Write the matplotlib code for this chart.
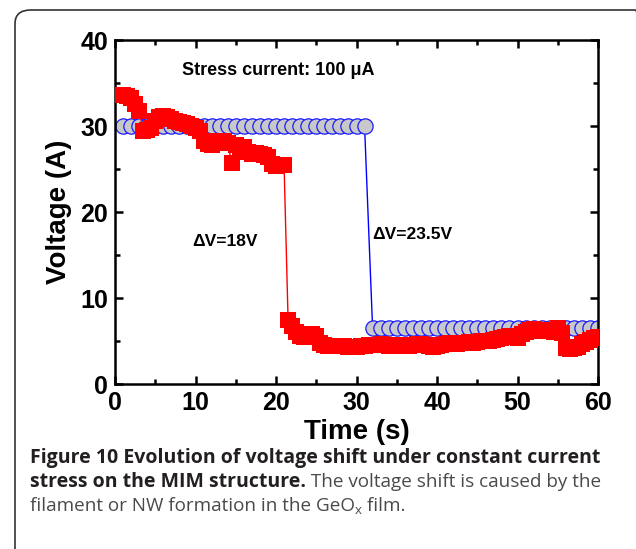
import numpy as np
import matplotlib
matplotlib.use("Agg")
import matplotlib.pyplot as plt
from matplotlib.patches import FancyBboxPatch

# blue circles: constant-current stress, device with later breakdown
blue_t_high = np.arange(1, 32)
blue_v_high = [30.0] * 31
blue_t_low = np.arange(32, 61)
blue_v_low = [6.5] * 29

# red squares: device with earlier breakdown (0.5 s sampling)
red_t_high = np.arange(0.5, 21.01, 0.5)
red_v_high = [33.6, 33.6, 33.5, 33.3, 32.6, 31.8, 29.4, 29.5, 29.8, 30.6,
              31.0, 31.2, 31.1, 30.8, 30.6, 30.5, 30.3, 30.2, 30.0, 29.8,
              29.4, 28.2, 27.9, 27.8, 28.0, 28.3, 28.2, 28.0, 25.7, 27.8,
              27.6, 27.6, 27.0, 26.8, 26.9, 26.7, 26.6, 26.4, 25.6, 25.4,
              25.5, 25.5]
red_t_low = np.arange(21.5, 60.01, 0.5)
red_v_low = [7.5, 6.8, 6.0, 5.6, 5.5, 5.7, 5.8, 5.6, 4.8, 4.5,
             4.4, 4.4, 4.4, 4.4, 4.4, 4.3, 4.3, 4.3, 4.4, 4.4,
             4.5, 4.5, 4.5, 4.6, 4.5, 4.4, 4.4, 4.5, 4.5, 4.4,
             4.4, 4.5, 4.6, 4.6, 4.5, 4.4, 4.3, 4.4, 4.5, 4.7,
             4.8, 4.7, 4.7, 4.8, 4.8, 4.9, 4.8, 4.9, 5.0, 5.0,
             5.0, 5.1, 5.2, 5.3, 5.5, 5.6, 5.5, 5.4, 5.8, 6.0,
             6.3, 6.4, 6.2, 6.2, 6.3, 6.3, 6.1, 6.5, 5.9, 4.2,
             4.1, 4.2, 4.3, 4.7, 4.9, 5.1, 5.3, 5.5]

W, H = 636, 549
fig = plt.figure(figsize=(W / 100, H / 100), dpi=100)

# rounded frame around figure + caption (cut off at right/bottom)
frame = FancyBboxPatch((15 / W, -0.2), 1.0, 1 - 10 / H + 0.2,
                       boxstyle="round,pad=0,rounding_size=0.025",
                       transform=fig.transFigure, fill=False,
                       edgecolor="#333333", linewidth=1.2)
fig.add_artist(frame)

ax = fig.add_axes([115 / W, 1 - 384 / H, (598 - 115) / W, (384 - 40) / H])

t_blue = np.concatenate([blue_t_high, blue_t_low])
v_blue = np.concatenate([blue_v_high, blue_v_low])
t_red = np.concatenate([red_t_high, red_t_low])
v_red = np.concatenate([red_v_high, red_v_low])

ax.plot(t_blue, v_blue, color="#0000ff", linewidth=1.0, marker="o",
        markersize=11, markerfacecolor="#c8c8c8", markeredgecolor="#1a1aff",
        markeredgewidth=0.9, zorder=2)
ax.plot(t_red, v_red, color="#ff0000", linewidth=1.0, marker="s",
        markersize=11.5, markerfacecolor="#ff0000", markeredgecolor="#ff0000",
        markeredgewidth=0, zorder=3)

ax.set_xlim(0, 60)
ax.set_ylim(0, 40)
ax.set_xticks(np.arange(0, 61, 10))
ax.set_yticks(np.arange(0, 41, 10))
ax.set_xticks(np.arange(5, 60, 10), minor=True)
ax.set_yticks(np.arange(5, 40, 10), minor=True)
ax.tick_params(which="both", direction="in", top=True, right=True, width=1.8)
ax.tick_params(which="major", length=6, labelsize=18, pad=5)
ax.tick_params(which="minor", length=3.5)
for lab in ax.get_xticklabels() + ax.get_yticklabels():
    lab.set_fontweight("bold")
    lab.set_family("Liberation Sans")
for sp in ax.spines.values():
    sp.set_linewidth(1.8)

ax.set_xlabel("Time (s)", fontsize=20, fontweight="bold", family="Liberation Sans", labelpad=3)
ax.set_ylabel("Voltage (A)", fontsize=20, fontweight="bold", family="Liberation Sans", labelpad=6)

ax.text(8.3, 36.5, "Stress current: 100 \u03bcA", fontsize=13, fontweight="bold",
        family="Liberation Sans", va="center")
ax.text(9.6, 16.6, "\u0394V=18V", fontsize=12.5, fontweight="bold",
        family="Liberation Sans", va="center")
ax.text(32, 17.4, "\u0394V=23.5V", fontsize=12.5, fontweight="bold",
        family="Liberation Sans", va="center")

# caption
renderer = fig.canvas.get_renderer()


def place_pieces(x_px, y_px, pieces):
    x = x_px
    for txt, kw in pieces:
        dy = kw.pop("dy", 0)
        t = fig.text(x / W, (H - y_px - dy) / H, txt, va="baseline", ha="left", **kw)
        bb = t.get_window_extent(renderer)
        x += bb.width


cap_font = "Open Sans"
bold_kw = dict(fontsize=14.0, fontweight="bold", family=cap_font, color="#231f20")
norm_kw = dict(fontsize=13.6, family=cap_font, color="#4a4a4a")
place_pieces(30, 463, [("Figure 10 Evolution of voltage shift under constant current", dict(bold_kw))])
place_pieces(30, 487, [("stress on the MIM structure.", dict(bold_kw)),
                       (" The voltage shift is caused by the", dict(norm_kw))])
place_pieces(30, 511, [("filament or NW formation in the GeO", dict(norm_kw)),
                       ("x", dict(norm_kw, fontsize=9.5, dy=3)),
                       (" film.", dict(norm_kw))])

fig.savefig("out.png", dpi=100)
